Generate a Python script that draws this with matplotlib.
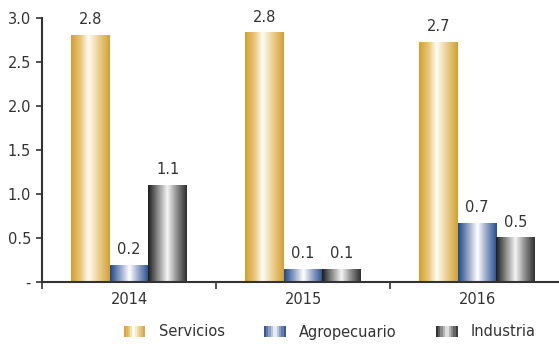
import numpy as np
import matplotlib
matplotlib.use('Agg')
import matplotlib.pyplot as plt
from matplotlib.colors import LinearSegmentedColormap
from matplotlib.patches import Patch
from matplotlib.legend_handler import HandlerTuple

years = ['2014', '2015', '2016']
series = ['Servicios', 'Agropecuario', 'Industria']
servicios = [2.8, 2.83, 2.72]
agropecuario = [0.19, 0.14, 0.67]
industria = [1.1, 0.14, 0.5]
labels = [['2.8', '2.8', '2.7'], ['0.2', '0.1', '0.7'], ['1.1', '0.1', '0.5']]
yticks = [0, 0.5, 1.0, 1.5, 2.0, 2.5, 3.0]
ytick_labels = ['-', '0.5', '1.0', '1.5', '2.0', '2.5', '3.0']

# gradient stops per series (left edge -> highlight -> right edge)
cmaps = [
    LinearSegmentedColormap.from_list('gold', [(0, '#d4a02e'), (0.25, '#e9c67a'), (0.45, '#fffdf6'),
                                               (0.7, '#ecd196'), (1, '#d4a033')]),
    LinearSegmentedColormap.from_list('blue', [(0, '#1e4888'), (0.25, '#8d9fc4'), (0.5, '#ffffff'),
                                               (0.75, '#8d9fc4'), (1, '#264d8e')]),
    LinearSegmentedColormap.from_list('gray', [(0, '#1c1c1c'), (0.25, '#8a8a8a'), (0.5, '#f4f4f4'),
                                               (0.75, '#8a8a8a'), (1, '#2e2e2e')]),
]

text_color = '#333333'
fs = 10.5
plt.rcParams['font.family'] = ['DejaVu Sans']

fig = plt.figure(figsize=(5.59, 3.44), dpi=100)
ax = fig.add_axes([42 / 559, 1 - 282 / 344, 522 / 559, 264 / 344])

x = np.arange(len(years))
width = 0.222
grad = np.linspace(0, 1, 256).reshape(1, -1)
for i, vals in enumerate([servicios, agropecuario, industria]):
    offs = (i - 1) * width
    bars = ax.bar(x + offs, vals, width, facecolor='none', edgecolor='none')
    for b, lab in zip(bars, labels[i]):
        x0, h = b.get_x(), b.get_height()
        ax.imshow(grad, cmap=cmaps[i], aspect='auto', extent=(x0, x0 + width, 0, h),
                  interpolation='bilinear', zorder=2)
        ax.annotate(lab, (x0 + width / 2, h), xytext=(0, 6), textcoords='offset points',
                    ha='center', va='bottom', fontsize=fs, color=text_color)

ax.set_xlim(-0.5, 2.5)
ax.set_ylim(0, 3.0)
ax.set_yticks(yticks)
ax.set_yticklabels(ytick_labels)
ax.set_xticks(x)
ax.set_xticklabels(years)
ax.set_xticks([-0.5, 0.5, 1.5, 2.5], minor=True)
ax.tick_params(axis='x', which='major', length=0, pad=7, labelsize=fs, colors=text_color)
ax.tick_params(axis='x', which='minor', length=5, width=1.2, color=text_color, direction='out')
ax.tick_params(axis='y', length=4, width=1.2, pad=4, labelsize=fs, colors=text_color)
for s in ['top', 'right']:
    ax.spines[s].set_visible(False)
for s in ['left', 'bottom']:
    ax.spines[s].set_color(text_color)
    ax.spines[s].set_linewidth(1.5)

handles = []
for cm in cmaps:
    handles.append(tuple(Patch(facecolor=cm(t), edgecolor='none') for t in np.linspace(0.05, 0.95, 10)))
leg = fig.legend(handles, series, loc='center', bbox_to_anchor=(0.59, 1 - 332 / 344), ncol=3,
                 frameon=False, fontsize=fs, handlelength=1.5, handleheight=0.7,
                 columnspacing=2.7, handletextpad=0.9,
                 handler_map={tuple: HandlerTuple(ndivide=None, pad=0)})
for t in leg.get_texts():
    t.set_color(text_color)

fig.savefig('out.png', dpi=100)
